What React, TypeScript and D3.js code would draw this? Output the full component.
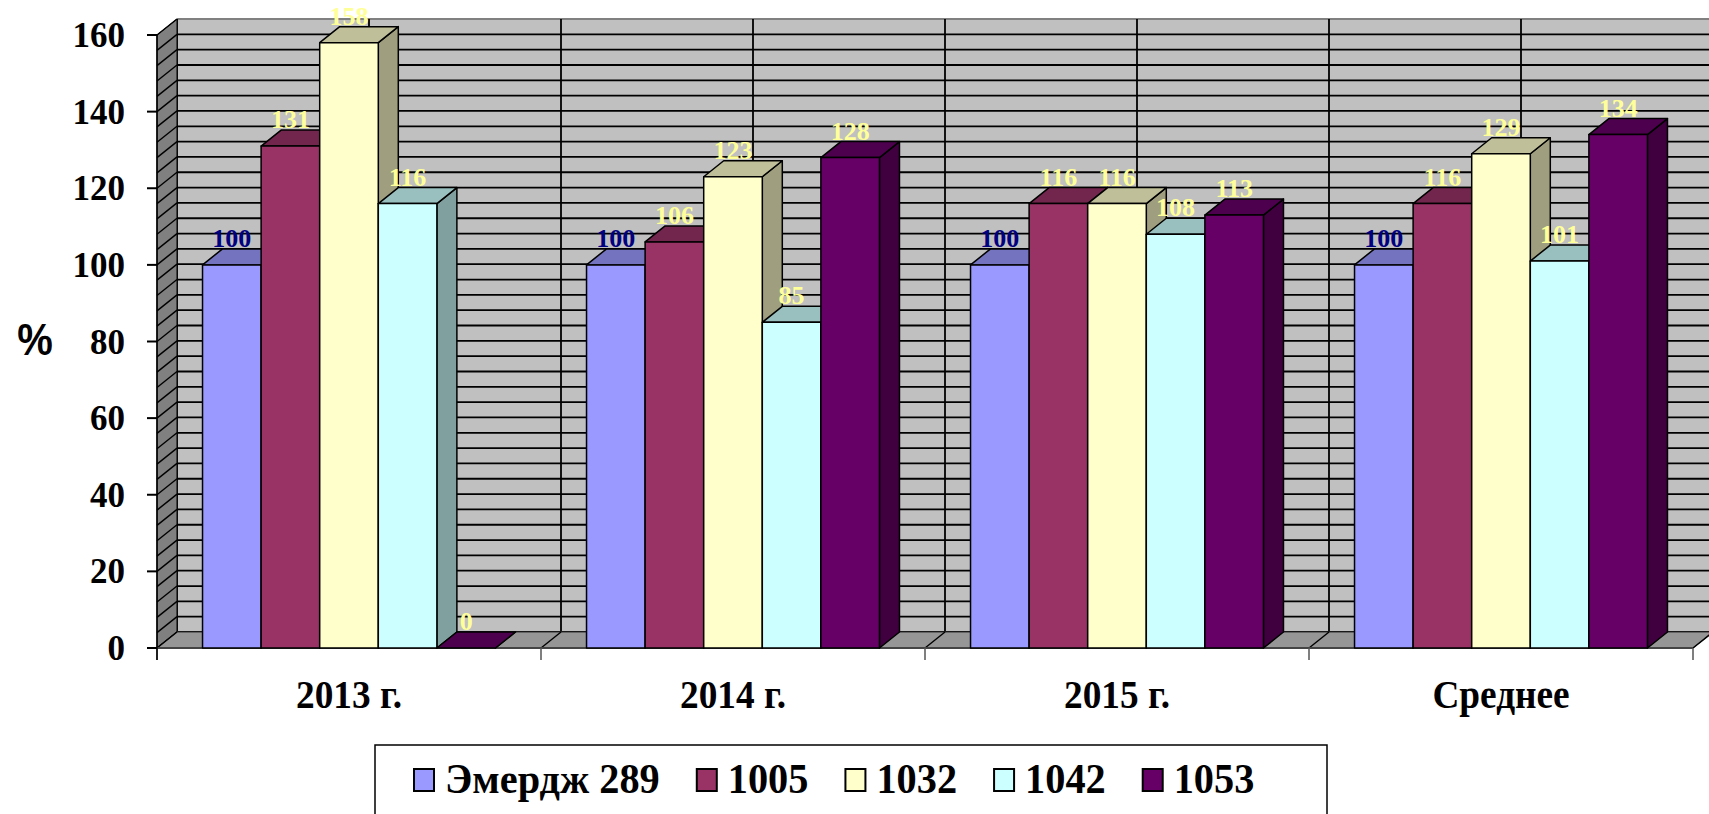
import * as d3 from "d3";

const categories = ["2013 г.", "2014 г.", "2015 г.", "Среднее"];
const seriesNames = ["Эмердж 289", "1005", "1032", "1042", "1053"];
const emerdzh289 = [100, 100, 100, 100];
const s1005 = [131, 106, 116, 116];
const s1032 = [158, 123, 116, 129];
const s1042 = [116, 85, 108, 101];
const s1053 = [0, 128, 113, 134];
const seriesValues = [emerdzh289, s1005, s1032, s1042, s1053];
const yTickValues = [0, 20, 40, 60, 80, 100, 120, 140, 160];

const fills = ["#9999FF", "#993366", "#FFFFCC", "#CCFFFF", "#660066"];
const labelFills = ["#000080", "#FFFF99", "#FFFF99", "#FFFF99", "#FFFF99"];

const W = 1709;
const H = 814;
const left = 157;
const right = 1693;
const base = 648;
const top = 35;
const dx = 20;
const dy = 16;
const serif = "'Liberation Serif', 'Times New Roman', serif";

const shade = (c: string, k: number) => {
  const r = d3.rgb(c);
  return d3.rgb(r.r * k, r.g * k, r.b * k).formatHex();
};

const measure = (txt: string, font: string) => {
  const ctx = document.createElement("canvas").getContext("2d");
  if (!ctx) return txt.length * 20;
  ctx.font = font;
  return ctx.measureText(txt).width;
};

export default function App() {
  const x = d3.scaleBand().domain(categories).range([left, right]);
  const inner = d3
    .scaleBand()
    .domain(seriesNames)
    .range([0, x.bandwidth()])
    .paddingInner(0)
    .paddingOuter(0.777);
  const y = d3.scaleLinear().domain([0, 160]).range([base, top]);
  const grid = d3.range(0, 161, 4);
  const step = x.bandwidth() / 2;
  const vLines = d3.range(0, categories.length * 2 + 1).map((i) => left + i * step);

  // legend layout from text widths
  const legendFont = `bold 42px ${serif}`;
  const legendScale = 0.96;
  let lx = 414;
  const legendItems = seriesNames.map((name, i) => {
    const item = { name, x: lx, color: fills[i] };
    lx += 31 + measure(name, legendFont) * legendScale + 37;
    return item;
  });

  const bw = inner.bandwidth();

  return (
    <svg
      width={W}
      height={H}
      style={{ position: "absolute", left: 0, top: 0, background: "#fff" }}
    >
      {/* back wall */}
      <rect x={left + dx} y={top - dy} width={right - left + 40} height={base - top} fill="#C0C0C0" />
      {grid.map((g) => (
        <line
          key={"h" + g}
          x1={left + dx}
          x2={W + 20}
          y1={y(g) - dy}
          y2={y(g) - dy}
          stroke={g === 160 ? "#808080" : "#000"}
          strokeWidth={1.8}
        />
      ))}
      {vLines.map((vx, i) => (
        <line key={"v" + i} x1={vx + dx} x2={vx + dx} y1={top - dy} y2={base - dy} stroke="#000" strokeWidth={1.8} />
      ))}
      {/* side wall */}
      <polygon
        points={`${left},${top} ${left + dx},${top - dy} ${left + dx},${base - dy} ${left},${base}`}
        fill="#808080"
        stroke="#000"
        strokeWidth={1}
      />
      {grid.map((g) => (
        <line key={"s" + g} x1={left} x2={left + dx} y1={y(g)} y2={y(g) - dy} stroke="#000" strokeWidth={1.5} />
      ))}
      {/* floor */}
      <polygon
        points={`${left},${base} ${right},${base} ${right + dx},${base - dy} ${left + dx},${base - dy}`}
        fill="#969696"
        stroke="#333"
        strokeWidth={1}
      />
      {vLines.map((vx, i) => (
        <line key={"f" + i} x1={vx} x2={vx + dx} y1={base} y2={base - dy} stroke="#000" strokeWidth={1.5} />
      ))}

      {/* axes */}
      <line x1={left} x2={right} y1={base} y2={base} stroke="#444" strokeWidth={2} />
      {d3.range(0, categories.length + 1).map((i) => (
        <line key={"xt" + i} x1={left + i * x.bandwidth()} x2={left + i * x.bandwidth()} y1={base} y2={base + 12} stroke="#555" strokeWidth={1.5} />
      ))}
      <line x1={left} x2={left} y1={top} y2={base + 12} stroke="#000" strokeWidth={1.5} />
      {yTickValues.map((t) => (
        <g key={"yt" + t}>
          <line x1={left - 10} x2={left} y1={y(t)} y2={y(t)} stroke="#000" strokeWidth={2} />
          <text x={125} y={y(t) + 12} textAnchor="end" fontFamily={serif} fontWeight="bold" fontSize={35}>
            {t}
          </text>
        </g>
      ))}
      <text
        textAnchor="middle"
        fontFamily="'Liberation Sans', Arial, sans-serif"
        fontWeight="bold"
        fontSize={40}
        transform="translate(35,355) scale(1,1.12)"
      >
        %
      </text>
      {categories.map((c) => (
        <text
          key={c}
          transform={`translate(${(x(c) as number) + x.bandwidth() / 2},708) scale(0.91,1)`}
          textAnchor="middle"
          fontFamily={serif}
          fontWeight="bold"
          fontSize={41}
        >
          {c}
        </text>
      ))}

      {/* bars */}
      {categories.map((c, ci) => (
        <g key={"g" + c}>
          {seriesNames.map((s, si) => {
            const v = seriesValues[si][ci];
            const x0 = (x(c) as number) + (inner(s) as number);
            const x1 = x0 + bw;
            const yv = y(v);
            const col = fills[si];
            return (
              <g key={s} stroke="#000" strokeWidth={1.5} strokeLinejoin="round">
                <polygon
                  points={`${x1},${yv} ${x1 + dx},${yv - dy} ${x1 + dx},${base - dy} ${x1},${base}`}
                  fill={shade(col, 0.625)}
                />
                <polygon
                  points={`${x0},${yv} ${x0 + dx},${yv - dy} ${x1 + dx},${yv - dy} ${x1},${yv}`}
                  fill={shade(col, 0.75)}
                />
                {v > 0 && <rect x={x0} y={yv} width={bw} height={base - yv} fill={col} />}
              </g>
            );
          })}
        </g>
      ))}

      {/* data labels */}
      {categories.map((c, ci) =>
        seriesNames.map((s, si) => {
          const v = seriesValues[si][ci];
          const cx = (x(c) as number) + (inner(s) as number) + bw / 2;
          return (
            <text
              key={c + s}
              x={cx}
              y={y(v) - dy - 2}
              textAnchor="middle"
              fontFamily={serif}
              fontWeight="bold"
              fontSize={26}
              fill={labelFills[si]}
            >
              {v}
            </text>
          );
        })
      )}

      {/* legend */}
      <rect x={375} y={745} width={952} height={120} fill="#fff" stroke="#000" strokeWidth={1.5} />
      {legendItems.map((it) => (
        <g key={it.name}>
          <rect x={it.x} y={769} width={20} height={22} fill={it.color} stroke="#000" strokeWidth={2} />
          <text
            transform={`translate(${it.x + 31},793) scale(${legendScale},1)`}
            fontFamily={serif}
            fontWeight="bold"
            fontSize={42}
          >
            {it.name}
          </text>
        </g>
      ))}
    </svg>
  );
}
